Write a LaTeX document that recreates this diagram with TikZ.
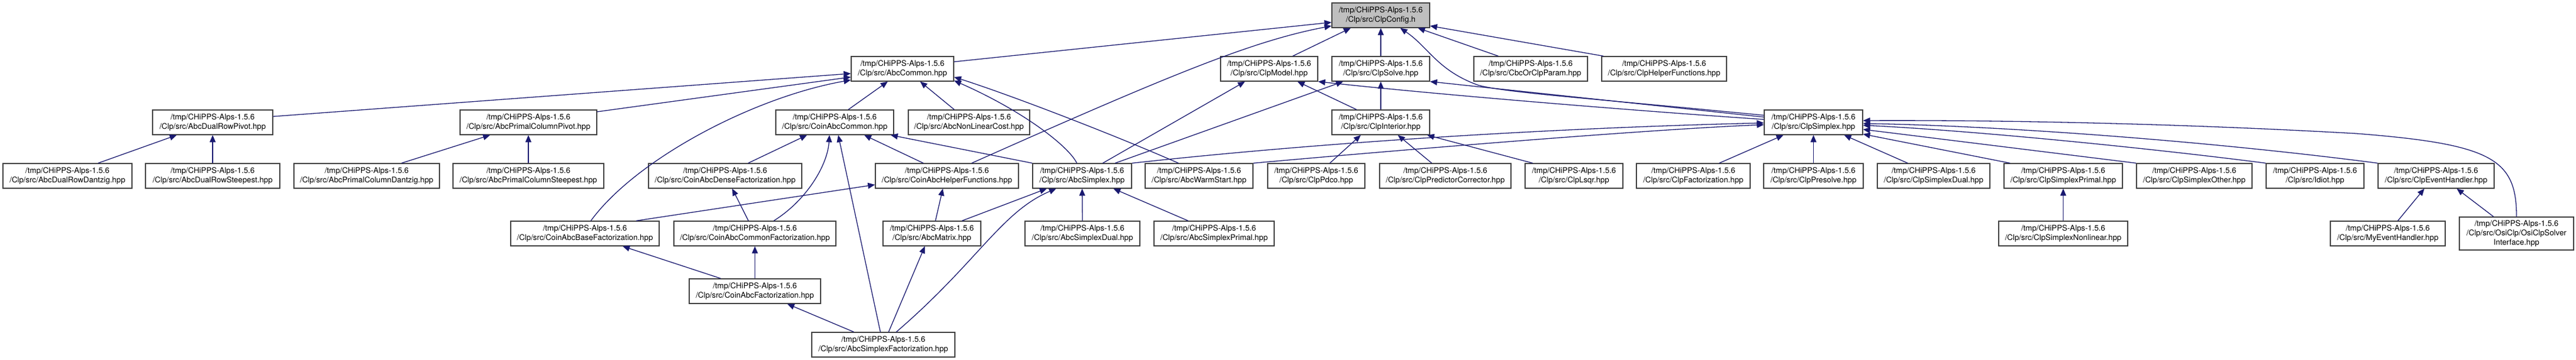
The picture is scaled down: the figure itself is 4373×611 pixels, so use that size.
\documentclass[tikz,border=0pt]{standalone}
\usepackage{fontspec}
\setmainfont{TeX Gyre Heros}
\usetikzlibrary{arrows.meta}
\definecolor{edgeblue}{HTML}{191970}
\definecolor{boxline}{HTML}{404040}
\definecolor{cfgfill}{HTML}{BFBFBF}

\begin{document}
\begin{tikzpicture}[x=1pt, y=-1pt,
  box/.style={draw=boxline, fill=white, line width=1.3pt, inner sep=0pt, minimum height=42, align=center, font=\fontsize{13.3}{16}\selectfont},
  dep/.style={draw=edgeblue, line width=1.3pt, -{Triangle[length=12pt,width=10pt]}}]
\fill[white] (0,0) rectangle (4373,611);
\useasboundingbox (0,0) rectangle (4373,611);
% 第0层
\node[box, fill=cfgfill, minimum width=166] (config) at (2344,26) {/tmp/CHiPPS-Alps-1.5.6\\/Clp/src/ClpConfig.h};
% 第1层
\node[box, minimum width=174] (abccommon) at (1532,117) {/tmp/CHiPPS-Alps-1.5.6\\/Clp/src/AbcCommon.hpp};
\node[box, minimum width=165] (clpmodel) at (2154.5,117) {/tmp/CHiPPS-Alps-1.5.6\\/Clp/src/ClpModel.hpp};
\node[box, minimum width=166] (clpsolve) at (2344,117) {/tmp/CHiPPS-Alps-1.5.6\\/Clp/src/ClpSolve.hpp};
\node[box, minimum width=193] (cbcparam) at (2598.5,117) {/tmp/CHiPPS-Alps-1.5.6\\/Clp/src/CbcOrClpParam.hpp};
\node[box, minimum width=212] (clphelper) at (2825,117) {/tmp/CHiPPS-Alps-1.5.6\\/Clp/src/ClpHelperFunctions.hpp};
% 第2层
\node[box, minimum width=204] (dualpivot) at (361,208) {/tmp/CHiPPS-Alps-1.5.6\\/Clp/src/AbcDualRowPivot.hpp};
\node[box, minimum width=232] (primalpivot) at (897,208) {/tmp/CHiPPS-Alps-1.5.6\\/Clp/src/AbcPrimalColumnPivot.hpp};
\node[box, minimum width=200] (coincommon) at (1417,208) {/tmp/CHiPPS-Alps-1.5.6\\/Clp/src/CoinAbcCommon.hpp};
\node[box, minimum width=206] (nonlincost) at (1645,208) {/tmp/CHiPPS-Alps-1.5.6\\/Clp/src/AbcNonLinearCost.hpp};
\node[box, minimum width=166] (clpinterior) at (2344,208) {/tmp/CHiPPS-Alps-1.5.6\\/Clp/src/ClpInterior.hpp};
\node[box, minimum width=167] (clpsimplex) at (3078.5,208) {/tmp/CHiPPS-Alps-1.5.6\\/Clp/src/ClpSimplex.hpp};
% 第3层
\node[box, minimum width=219] (dualdantzig) at (114.5,299) {/tmp/CHiPPS-Alps-1.5.6\\/Clp/src/AbcDualRowDantzig.hpp};
\node[box, minimum width=228] (dualsteepest) at (361,299) {/tmp/CHiPPS-Alps-1.5.6\\/Clp/src/AbcDualRowSteepest.hpp};
\node[box, minimum width=247] (primaldantzig) at (622.5,299) {/tmp/CHiPPS-Alps-1.5.6\\/Clp/src/AbcPrimalColumnDantzig.hpp};
\node[box, minimum width=256] (primalsteepest) at (897,299) {/tmp/CHiPPS-Alps-1.5.6\\/Clp/src/AbcPrimalColumnSteepest.hpp};
\node[box, minimum width=260] (densefact) at (1231,299) {/tmp/CHiPPS-Alps-1.5.6\\/Clp/src/CoinAbcDenseFactorization.hpp};
\node[box, minimum width=243] (coinhelper) at (1607.5,299) {/tmp/CHiPPS-Alps-1.5.6\\/Clp/src/CoinAbcHelperFunctions.hpp};
\node[box, minimum width=168] (abcsimplex) at (1837,299) {/tmp/CHiPPS-Alps-1.5.6\\/Clp/src/AbcSimplex.hpp};
\node[box, minimum width=183] (warmstart) at (2035.5,299) {/tmp/CHiPPS-Alps-1.5.6\\/Clp/src/AbcWarmStart.hpp};
\node[box, minimum width=165] (clppdco) at (2234.5,299) {/tmp/CHiPPS-Alps-1.5.6\\/Clp/src/ClpPdco.hpp};
\node[box, minimum width=223] (predcorr) at (2453.5,299) {/tmp/CHiPPS-Alps-1.5.6\\/Clp/src/ClpPredictorCorrector.hpp};
\node[box, minimum width=166] (clplsqr) at (2672,299) {/tmp/CHiPPS-Alps-1.5.6\\/Clp/src/ClpLsqr.hpp};
\node[box, minimum width=193] (clpfact) at (2874.5,299) {/tmp/CHiPPS-Alps-1.5.6\\/Clp/src/ClpFactorization.hpp};
\node[box, minimum width=169] (clppresolve) at (3078.5,299) {/tmp/CHiPPS-Alps-1.5.6\\/Clp/src/ClpPresolve.hpp};
\node[box, minimum width=191] (simplexdual) at (3282.5,299) {/tmp/CHiPPS-Alps-1.5.6\\/Clp/src/ClpSimplexDual.hpp};
\node[box, minimum width=201] (simplexprimal) at (3502.5,299) {/tmp/CHiPPS-Alps-1.5.6\\/Clp/src/ClpSimplexPrimal.hpp};
\node[box, minimum width=196] (simplexother) at (3725,299) {/tmp/CHiPPS-Alps-1.5.6\\/Clp/src/ClpSimplexOther.hpp};
\node[box, minimum width=166] (idiot) at (3930,299) {/tmp/CHiPPS-Alps-1.5.6\\/Clp/src/Idiot.hpp};
\node[box, minimum width=197] (eventhandler) at (4135.5,299) {/tmp/CHiPPS-Alps-1.5.6\\/Clp/src/ClpEventHandler.hpp};
% 第4层
\node[box, minimum width=252] (basefact) at (993,397) {/tmp/CHiPPS-Alps-1.5.6\\/Clp/src/CoinAbcBaseFactorization.hpp};
\node[box, minimum width=275] (commonfact) at (1281.5,397) {/tmp/CHiPPS-Alps-1.5.6\\/Clp/src/CoinAbcCommonFactorization.hpp};
\node[box, minimum width=166] (abcmatrix) at (1582,397) {/tmp/CHiPPS-Alps-1.5.6\\/Clp/src/AbcMatrix.hpp};
\node[box, minimum width=195] (abcsdual) at (1837.5,397) {/tmp/CHiPPS-Alps-1.5.6\\/Clp/src/AbcSimplexDual.hpp};
\node[box, minimum width=204] (abcsprimal) at (2061,397) {/tmp/CHiPPS-Alps-1.5.6\\/Clp/src/AbcSimplexPrimal.hpp};
\node[box, minimum width=219] (simplexnonlin) at (3502.5,397) {/tmp/CHiPPS-Alps-1.5.6\\/Clp/src/ClpSimplexNonlinear.hpp};
\node[box, minimum width=195] (myevent) at (4053.5,397) {/tmp/CHiPPS-Alps-1.5.6\\/Clp/src/MyEventHandler.hpp};
\node[box, minimum width=194, minimum height=56] (osiclp) at (4272,397) {/tmp/CHiPPS-Alps-1.5.6\\/Clp/src/OsiClp/OsiClpSolver\\Interface.hpp};
% 第5、6层
\node[box, minimum width=223] (coinfact) at (1281.5,495) {/tmp/CHiPPS-Alps-1.5.6\\/Clp/src/CoinAbcFactorization.hpp};
\node[box, minimum width=243] (simplexfact) at (1499.5,586) {/tmp/CHiPPS-Alps-1.5.6\\/Clp/src/AbcSimplexFactorization.hpp};

% 指向 ClpConfig
\draw[dep] ([yshift=12]abccommon.east) -- ([yshift=-12]config.west);
\draw[dep] ([xshift=42]coinhelper.north) .. controls (2000,121) and (2130,69) .. ([yshift=-18]config.west);
\draw[dep] ([xshift=40]clpmodel.north) -- ([xshift=-51]config.south);
\draw[dep] (clpsolve.north) -- (config.south);
\draw[dep] ([yshift=12]clpsimplex.west) .. controls (2700,167) and (2560,158) .. (2510,145) .. controls (2440,120) and (2425,80) .. ([xshift=33]config.south);
\draw[dep] ([xshift=-55]cbcparam.north) -- ([xshift=63]config.south);
\draw[dep] ([xshift=-103]clphelper.north) -- ([yshift=-18]config.east);
% 指向 AbcCommon
\draw[dep] ([yshift=10]dualpivot.east) -- ([yshift=-8]abccommon.west);
\draw[dep] ([yshift=18]primalpivot.east) -- ([yshift=-14]abccommon.west);
\draw[dep] ([xshift=10]basefact.north) .. controls (1080,270) and (1280,165) .. ([yshift=-19]abccommon.west);
\draw[dep] ([xshift=23]coincommon.north) -- ([xshift=-25]abccommon.south);
\draw[dep] ([xshift=-25]nonlincost.north) -- ([xshift=30]abccommon.south);
\draw[dep] ([xshift=-35]warmstart.north) .. controls (1900,233) and (1720,163) .. ([yshift=-14]abccommon.east);
\draw[dep] ([xshift=-9]abcsimplex.north) .. controls (1815,250) and (1740,190) .. ([yshift=-20]abccommon.east);
% 主元选择
\draw[dep] ([xshift=52]dualdantzig.north) -- ([xshift=-61]dualpivot.south);
\draw[dep] (dualsteepest.north) -- (dualpivot.south);
\draw[dep] ([xshift=59]primaldantzig.north) -- ([xshift=-65]primalpivot.south);
\draw[dep] (primalsteepest.north) -- (primalpivot.south);
% 指向 CoinAbcCommon
\draw[dep] ([xshift=39]densefact.north) -- ([xshift=-47]coincommon.south);
\draw[dep] ([xshift=-40]coinhelper.north) -- ([xshift=50]coincommon.south);
\draw[dep] (abcsimplex.north west) -- ([xshift=95]coincommon.south);
\draw[dep] ([xshift=32]commonfact.north) .. controls (1370,340) and (1405,280) .. ([xshift=-9]coincommon.south);
\draw[dep] ([xshift=-5]simplexfact.north) -- ([xshift=6]coincommon.south);
% 指向 CoinAbcHelperFunctions
\draw[dep] ([xshift=87]basefact.north) -- ([yshift=-15]coinhelper.west);
\draw[dep] ([xshift=6]abcmatrix.north) -- ([xshift=-7]coinhelper.south);
% 分解
\draw[dep] ([xshift=-11]commonfact.north) -- ([xshift=12]densefact.south);
\draw[dep] ([xshift=-58]coinfact.north) -- ([xshift=64]basefact.south);
\draw[dep] (coinfact.north) -- (commonfact.south);
\draw[dep] ([xshift=-50]simplexfact.north) -- ([xshift=55]coinfact.south);
\draw[dep] ([xshift=9]simplexfact.north) -- ([xshift=-12]abcmatrix.south);
\draw[dep] ([xshift=22]simplexfact.north) .. controls (1660,445) and (1700,360) .. ([xshift=-44]abcsimplex.south);
% AbcSimplex
\draw[dep] ([xshift=51]abcmatrix.north) -- ([xshift=-60]abcsimplex.south);
\draw[dep] (abcsdual.north) -- (abcsimplex.south);
\draw[dep] ([xshift=-44]abcsprimal.north) -- ([xshift=53]abcsimplex.south);
\draw[dep] ([xshift=35]abcsimplex.north) -- ([xshift=-41]clpmodel.south);
\draw[dep] ([xshift=56]abcsimplex.north) -- ([xshift=-64]clpsolve.south);
\draw[dep] (abcsimplex.north east) .. controls (2300,236) and (2700,216) .. ([yshift=-1]clpsimplex.west);
\draw[dep] (warmstart.north east) .. controls (2400,253) and (2800,220) .. ([yshift=-4]clpsimplex.west);
% ClpModel, ClpSolve
\draw[dep] ([xshift=-41]clpinterior.north) -- ([xshift=48]clpmodel.south);
\draw[dep] (clpinterior.north) -- (clpsolve.south);
\draw[dep] ([yshift=5]clpsimplex.west) .. controls (2800,190) and (2450,162) .. (clpmodel.south east);
\draw[dep] ([yshift=9]clpsimplex.west) -- (clpsolve.south east);
% ClpInterior
\draw[dep] ([xshift=23]clppdco.north) -- ([xshift=-34]clpinterior.south);
\draw[dep] ([xshift=-23]predcorr.north) -- ([xshift=29]clpinterior.south);
\draw[dep] ([xshift=-70]clplsqr.north) -- ([xshift=-5]clpinterior.south east);
% ClpSimplex
\draw[dep] ([xshift=44]clpfact.north) -- ([xshift=-51]clpsimplex.south);
\draw[dep] (clppresolve.north) -- (clpsimplex.south);
\draw[dep] ([xshift=-44]simplexdual.north) -- ([xshift=52]clpsimplex.south);
\draw[dep] ([xshift=11]simplexprimal.north west) -- ([yshift=-20]clpsimplex.east);
\draw[dep] (simplexother.north west) -- ([yshift=-12]clpsimplex.east);
\draw[dep] (idiot.north west) .. controls (3650,252) and (3350,222) .. ([yshift=-5]clpsimplex.east);
\draw[dep] (eventhandler.north west) .. controls (3750,240) and (3400,214) .. ([yshift=-2]clpsimplex.east);
\draw[dep] (osiclp.north) .. controls (4272,270) and (4230,245) .. (4000,227) .. controls (3700,210) and (3400,204) .. ([yshift=3]clpsimplex.east);
% 最下面几条
\draw[dep] (simplexnonlin.north) -- (simplexprimal.south);
\draw[dep] ([xshift=17]myevent.north) -- ([xshift=-20]eventhandler.south);
\draw[dep] ([xshift=-39]osiclp.north) -- ([xshift=35]eventhandler.south);
\end{tikzpicture}
\end{document}
